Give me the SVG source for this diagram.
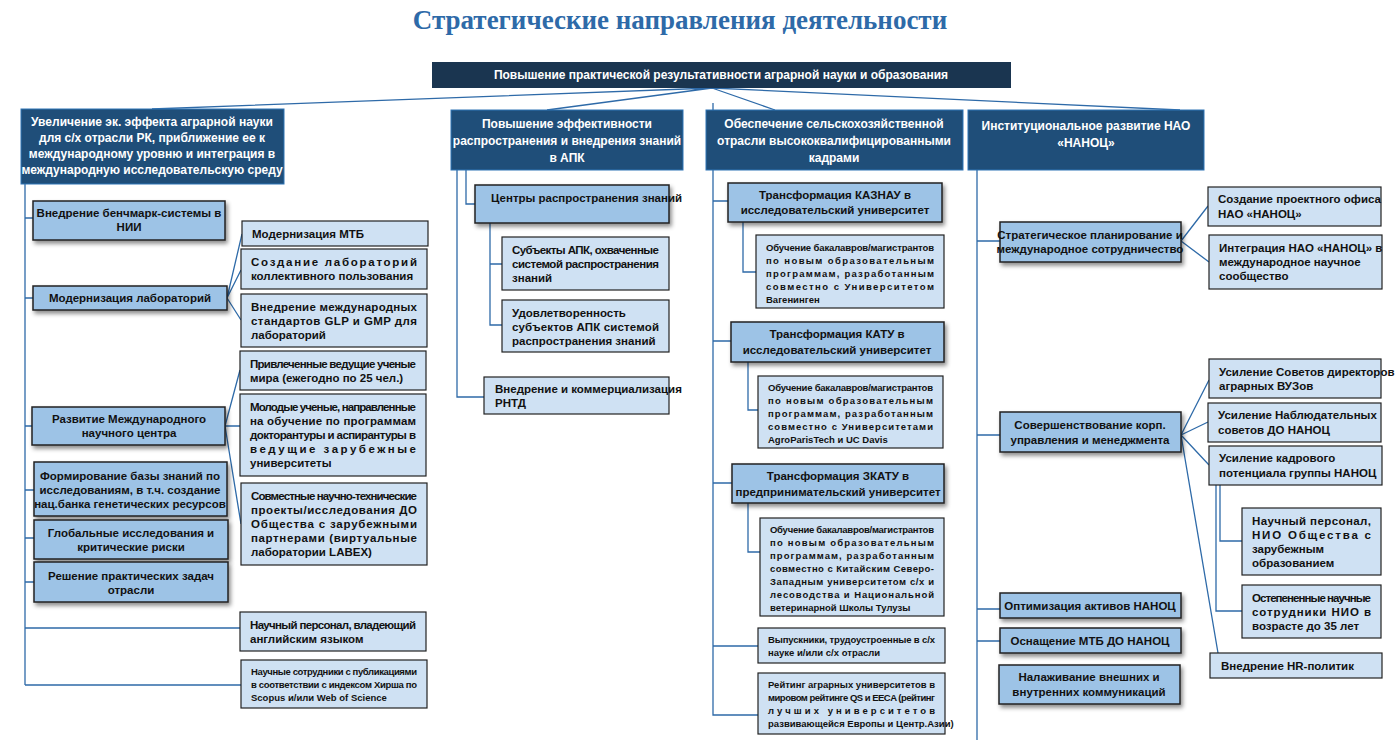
<svg xmlns="http://www.w3.org/2000/svg" width="1397" height="748" viewBox="0 0 1397 748">
<defs>
<filter id="sh" x="-10%" y="-20%" width="130%" height="160%"><feDropShadow dx="2" dy="3" stdDeviation="2" flood-color="#000" flood-opacity="0.45"/></filter>
</defs>
<style>
text{font-family:"Liberation Sans Narrow","Liberation Sans",Arial,sans-serif;font-weight:bold;font-size:11.5px;fill:#111}
.title{font-family:"Liberation Serif","Times New Roman",serif;font-size:27px;fill:#2e6aa8}
.top{fill:#1a3550}
.hd{fill:#1f4e79;stroke:#2e75b6;stroke-width:1}
.hd-t{fill:#fff;font-size:12px}
.m{fill:#9dc3e6;stroke:#222;stroke-width:1.5;filter:url(#sh)}
.l{fill:#cfe1f3;stroke:#222;stroke-width:1.2}
.c{text-anchor:middle}
.s{font-size:9.5px}
#connectors path{fill:none;stroke:#2e6aa8;stroke-width:1.3}
</style>
<rect width="1397" height="748" fill="#fff"/>
<text class="title c" x="680" y="29">Стратегические направления деятельности</text>

<g id="connectors">
<path d="M712 88 L152 109 M712 88 L547 110 M712 88 L775 110 M712 88 L1180 110"/>
<path d="M25 180 V685 M25 218 H33 M25 298 H33 M25 426 H32 M25 490 H34 M25 538 H34 M25 582 H34 M25 628 H240 M25 685 H241"/>
<path d="M227 298 L242 234 M227 298 L241 270 M227 298 L241 320 M225 426 L240 370 M225 426 H240 M225 426 L241 524"/>
<path d="M457 170 V397 H484 M466 170 V204 H475 M490 223 V325 H502 M490 264 H502"/>
<path d="M713 103 V715 H758 M713 201 H728 M713 341 H731 M713 483 H732 M713 646 H758 M743 222 V272 H756 M748 362 V410 H758 M748 503 V552 H760"/>
<path d="M977 170 V740 M977 241 H1000 M977 435 H1000 M977 609 H1000 M977 641 H1000"/>
<path d="M1181 241 L1208 206 M1181 241 L1209 262 M1181 435 L1209 380 M1181 435 L1208 422 M1181 435 L1209 465 M1181 435 L1218 653 M1220 485 V541 H1242 M1216 485 V611 H1242"/>
</g>

<g id="n-top"><rect class="top" x="432" y="62" width="579" height="26"/><text class="hd-t c" x="721" y="79">Повышение практической результативности аграрной науки и образования</text></g>

<g id="h1"><rect class="hd" x="21" y="109" width="263" height="75"/>
<text class="hd-t c" x="152" y="126">Увеличение эк. эффекта аграрной науки</text>
<text class="hd-t c" x="152" y="142">для с/х отрасли РК, приближение ее к</text>
<text class="hd-t c" x="152" y="158">международному уровню и интеграция в</text>
<text class="hd-t c" x="152" y="174">международную исследовательскую среду</text></g>
<g id="h2"><rect class="hd" x="451" y="110" width="232" height="60"/>
<text class="hd-t c" x="567" y="128">Повышение эффективности</text>
<text class="hd-t c" x="567" y="145">распространения и внедрения знаний</text>
<text class="hd-t c" x="567" y="162">в АПК</text></g>
<g id="h3"><rect class="hd" x="706" y="110" width="257" height="60"/>
<text class="hd-t c" x="834" y="128">Обеспечение сельскохозяйственной</text>
<text class="hd-t c" x="834" y="145">отрасли высококвалифицированными</text>
<text class="hd-t c" x="834" y="162">кадрами</text></g>
<g id="h4"><rect class="hd" x="968" y="110" width="236" height="60"/>
<text class="hd-t c" x="1086" y="130">Институциональное развитие НАО</text>
<text class="hd-t c" x="1086" y="147">«НАНОЦ»</text></g>

<!-- column 1 -->
<g id="c1a"><rect class="m" x="33" y="201" width="192" height="39"/><text class="c" x="129" y="217">Внедрение бенчмарк-системы в</text><text class="c" x="129" y="231">НИИ</text></g>
<g id="c1b"><rect class="m" x="33" y="286" width="194" height="24"/><text class="c" x="130" y="302">Модернизация лабораторий</text></g>
<g id="c1c"><rect class="m" x="32" y="407" width="193" height="38"/><text class="c" x="129" y="423">Развитие Международного</text><text class="c" x="129" y="437">научного центра</text></g>
<g id="c1d"><rect class="m" x="34" y="462" width="193" height="54"/><text class="c" x="130" y="480">Формирование базы знаний по</text><text class="c" x="130" y="494">исследованиям, в т.ч. создание</text><text class="c" x="130" y="508">нац.банка генетических ресурсов</text></g>
<g id="c1e"><rect class="m" x="34" y="520" width="194" height="39"/><text class="c" x="131" y="537">Глобальные исследования и</text><text class="c" x="131" y="551">критические риски</text></g>
<g id="c1f"><rect class="m" x="34" y="562" width="194" height="40"/><text class="c" x="131" y="580">Решение практических задач</text><text class="c" x="131" y="594">отрасли</text></g>

<g id="c1g"><rect class="l" x="242" y="221" width="186" height="25"/><text x="252" y="238">Модернизация МТБ</text></g>
<g id="c1h"><rect class="l" x="241" y="249" width="186" height="40"/><text x="251" y="266" textLength="166" lengthAdjust="spacing">Создание лабораторий</text><text x="251" y="280">коллективного пользования</text></g>
<g id="c1i"><rect class="l" x="241" y="294" width="186" height="53"/><text x="251" y="311" textLength="166" lengthAdjust="spacing">Внедрение международных</text><text x="251" y="325" textLength="166" lengthAdjust="spacing">стандартов GLP и GMP для</text><text x="251" y="339">лабораторий</text></g>
<g id="c1j"><rect class="l" x="240" y="351" width="186" height="39"/><text x="250" y="368" textLength="166" lengthAdjust="spacing">Привлеченные ведущие ученые</text><text x="250" y="382">мира (ежегодно по 25 чел.)</text></g>
<g id="c1k"><rect class="l" x="240" y="394" width="186" height="82"/><text x="250" y="411" textLength="166" lengthAdjust="spacing">Молодые ученые, направленные</text><text x="250" y="425" textLength="166" lengthAdjust="spacing">на обучение по программам</text><text x="250" y="439" textLength="166" lengthAdjust="spacing">докторантуры и аспирантуры в</text><text x="250" y="453" textLength="166" lengthAdjust="spacing">ведущие зарубежные</text><text x="250" y="467">университеты</text></g>
<g id="c1l"><rect class="l" x="241" y="483" width="186" height="82"/><text x="251" y="500" textLength="166" lengthAdjust="spacing">Совместные научно-технические</text><text x="251" y="514" textLength="166" lengthAdjust="spacing">проекты/исследования ДО</text><text x="251" y="528" textLength="166" lengthAdjust="spacing">Общества с зарубежными</text><text x="251" y="542" textLength="166" lengthAdjust="spacing">партнерами (виртуальные</text><text x="251" y="556">лаборатории LABEX)</text></g>
<g id="c1m"><rect class="l" x="240" y="612" width="186" height="39"/><text x="250" y="629" textLength="166" lengthAdjust="spacing">Научный персонал, владеющий</text><text x="250" y="643">английским языком</text></g>
<g id="c1n"><rect class="l" x="241" y="660" width="186" height="48"/><text class="s" x="251" y="675" textLength="166" lengthAdjust="spacing">Научные сотрудники с публикациями</text><text class="s" x="251" y="688" textLength="166" lengthAdjust="spacing">в соответствии с индексом Хирша по</text><text class="s" x="251" y="701">Scopus и/или Web of Science</text></g>

<!-- column 2 -->
<g id="c2a"><rect class="m" x="475" y="185" width="194" height="38"/><text x="491" y="202">Центры распространения знаний</text></g>
<g id="c2b"><rect class="l" x="502" y="237" width="167" height="53"/><text x="512" y="254" textLength="147" lengthAdjust="spacing">Субъекты АПК, охваченные</text><text x="512" y="268" textLength="147" lengthAdjust="spacing">системой распространения</text><text x="512" y="282">знаний</text></g>
<g id="c2c"><rect class="l" x="502" y="300" width="167" height="52"/><text x="512" y="317">Удовлетворенность</text><text x="512" y="331" textLength="147" lengthAdjust="spacing">субъектов АПК системой</text><text x="512" y="345">распространения знаний</text></g>
<g id="c2d"><rect class="l" x="484" y="377" width="185" height="37"/><text x="495" y="393">Внедрение и коммерциализация</text><text x="495" y="407">РНТД</text></g>

<!-- column 3 -->
<g id="c3a"><rect class="m" x="728" y="183" width="214" height="39"/><text class="c" x="835" y="199">Трансформация КАЗНАУ в</text><text class="c" x="835" y="214">исследовательский университет</text></g>
<g id="c3b"><rect class="l" x="756" y="235" width="188" height="73"/><text class="s" x="766" y="251" textLength="168" lengthAdjust="spacing">Обучение бакалавров/магистрантов</text><text class="s" x="766" y="264" textLength="168" lengthAdjust="spacing">по новым образовательным</text><text class="s" x="766" y="277" textLength="168" lengthAdjust="spacing">программам, разработанным</text><text class="s" x="766" y="290" textLength="168" lengthAdjust="spacing">совместно с Университетом</text><text class="s" x="766" y="303">Вагенинген</text></g>
<g id="c3c"><rect class="m" x="731" y="322" width="213" height="40"/><text class="c" x="837" y="338">Трансформация КАТУ в</text><text class="c" x="837" y="354">исследовательский университет</text></g>
<g id="c3d"><rect class="l" x="758" y="376" width="185" height="72"/><text class="s" x="768" y="391" textLength="165" lengthAdjust="spacing">Обучение бакалавров/магистрантов</text><text class="s" x="768" y="404" textLength="165" lengthAdjust="spacing">по новым образовательным</text><text class="s" x="768" y="417" textLength="165" lengthAdjust="spacing">программам, разработанным</text><text class="s" x="768" y="430" textLength="165" lengthAdjust="spacing">совместно с Университетами</text><text class="s" x="768" y="443">AgroParisTech и UC Davis</text></g>
<g id="c3e"><rect class="m" x="732" y="464" width="212" height="39"/><text class="c" x="838" y="480">Трансформация ЗКАТУ в</text><text class="c" x="838" y="496">предпринимательский университет</text></g>
<g id="c3f"><rect class="l" x="760" y="518" width="184" height="98"/><text class="s" x="770" y="533" textLength="164" lengthAdjust="spacing">Обучение бакалавров/магистрантов</text><text class="s" x="770" y="546" textLength="164" lengthAdjust="spacing">по новым образовательным</text><text class="s" x="770" y="559" textLength="164" lengthAdjust="spacing">программам, разработанным</text><text class="s" x="770" y="572" textLength="164" lengthAdjust="spacing">совместно с Китайским Северо-</text><text class="s" x="770" y="585" textLength="164" lengthAdjust="spacing">Западным университетом с/х и</text><text class="s" x="770" y="598" textLength="164" lengthAdjust="spacing">лесоводства и Национальной</text><text class="s" x="770" y="611">ветеринарной Школы Тулузы</text></g>
<g id="c3g"><rect class="l" x="758" y="628" width="187" height="35"/><text class="s" x="768" y="643" textLength="167" lengthAdjust="spacing">Выпускники, трудоустроенные в с/х</text><text class="s" x="768" y="656">науке и/или с/х отрасли</text></g>
<g id="c3h"><rect class="l" x="758" y="673" width="187" height="61"/><text class="s" x="768" y="688" textLength="167" lengthAdjust="spacing">Рейтинг аграрных университетов в</text><text class="s" x="768" y="701" textLength="167" lengthAdjust="spacing">мировом рейтинге QS и EECA (рейтинг</text><text class="s" x="768" y="714" textLength="167" lengthAdjust="spacing">лучших университетов</text><text class="s" x="768" y="727">развивающейся Европы и Центр.Азии)</text></g>

<!-- column 4 -->
<g id="c4a"><rect class="m" x="1000" y="222" width="181" height="40"/><text class="c" x="1090" y="239">Стратегическое планирование и</text><text class="c" x="1090" y="253">международное сотрудничество</text></g>
<g id="c4b"><rect class="l" x="1208" y="187" width="173" height="39"/><text x="1218" y="203">Создание проектного офиса</text><text x="1218" y="218">НАО «НАНОЦ»</text></g>
<g id="c4c"><rect class="l" x="1209" y="235" width="173" height="54"/><text x="1219" y="252">Интеграция НАО «НАНОЦ» в</text><text x="1219" y="266">международное научное</text><text x="1219" y="280">сообщество</text></g>
<g id="c4d"><rect class="m" x="1000" y="412" width="181" height="40"/><text class="c" x="1090" y="429">Совершенствование корп.</text><text class="c" x="1090" y="444">управления и менеджмента</text></g>
<g id="c4e"><rect class="l" x="1209" y="359" width="172" height="39"/><text x="1219" y="376">Усиление Советов директоров</text><text x="1219" y="390">аграрных ВУЗов</text></g>
<g id="c4f"><rect class="l" x="1208" y="403" width="173" height="39"/><text x="1218" y="419">Усиление Наблюдательных</text><text x="1218" y="434">советов ДО НАНОЦ</text></g>
<g id="c4g"><rect class="l" x="1209" y="446" width="173" height="39"/><text x="1219" y="462">Усиление кадрового</text><text x="1219" y="477">потенциала группы НАНОЦ</text></g>
<g id="c4h"><rect class="l" x="1242" y="508" width="139" height="67"/><text x="1252" y="525" textLength="119" lengthAdjust="spacing">Научный персонал,</text><text x="1252" y="539" textLength="119" lengthAdjust="spacing">НИО Общества с</text><text x="1252" y="553">зарубежным</text><text x="1252" y="567">образованием</text></g>
<g id="c4i"><rect class="l" x="1242" y="585" width="139" height="53"/><text x="1252" y="602" textLength="119" lengthAdjust="spacing">Остепененные научные</text><text x="1252" y="616" textLength="119" lengthAdjust="spacing">сотрудники НИО в</text><text x="1252" y="630">возрасте до 35 лет</text></g>
<g id="c4j"><rect class="l" x="1210" y="653" width="172" height="25"/><text x="1221" y="670">Внедрение HR-политик</text></g>
<g id="c4k"><rect class="m" x="1000" y="593" width="181" height="25"/><text class="c" x="1090" y="610">Оптимизация активов НАНОЦ</text></g>
<g id="c4l"><rect class="m" x="1000" y="628" width="181" height="25"/><text class="c" x="1090" y="645">Оснащение МТБ ДО НАНОЦ</text></g>
<g id="c4m"><rect class="m" x="999" y="665" width="181" height="39"/><text class="c" x="1089" y="681">Налаживание внешних и</text><text class="c" x="1089" y="696">внутренних коммуникаций</text></g>
</svg>
